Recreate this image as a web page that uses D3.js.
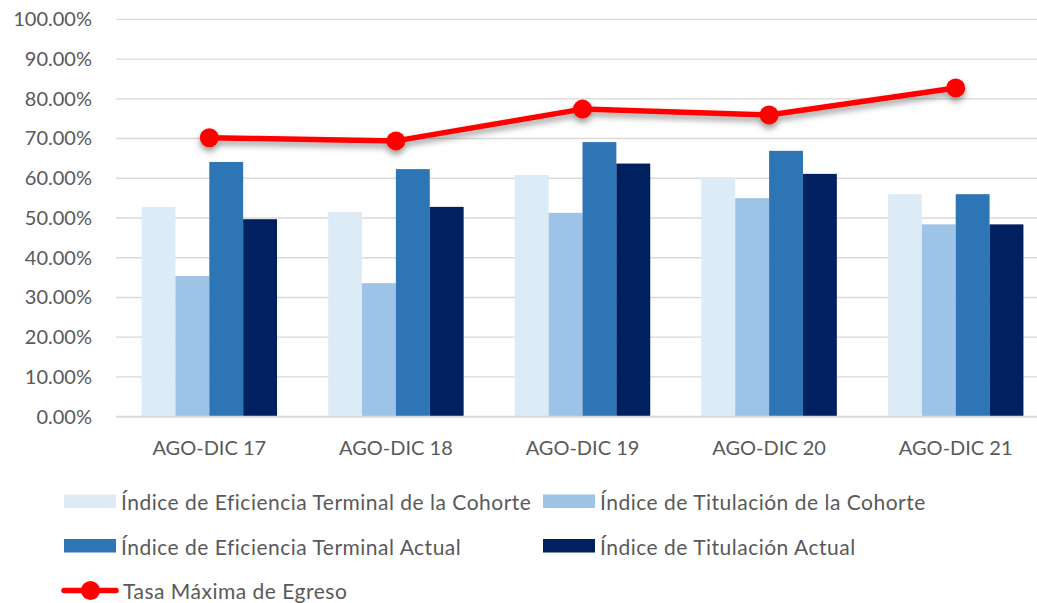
<!DOCTYPE html>
<html>
<head>
<meta charset="utf-8">
<script src="https://cdn.jsdelivr.net/npm/d3@7/dist/d3.min.js"></script>
<style>
  html, body { margin: 0; padding: 0; background: #ffffff; }
  svg { display: block; }
  text { font-family: "Lato", "Liberation Sans", sans-serif; fill: #595959; }
  .legend text { letter-spacing: 0.5px; }
</style>
</head>
<body>
<svg id="chart" width="1037" height="603"></svg>
<script>
// Periods on the x axis
const categories = ["AGO-DIC 17", "AGO-DIC 18", "AGO-DIC 19", "AGO-DIC 20", "AGO-DIC 21"];

// Bar series (percent)
const eficienciaCohorte = [52.8, 51.5, 60.8, 60.2, 56.0];
const titulacionCohorte = [35.4, 33.6, 51.3, 55.0, 48.4];
const eficienciaActual  = [64.1, 62.3, 69.1, 66.9, 56.0];
const titulacionActual  = [49.7, 52.8, 63.7, 61.1, 48.4];

// Line series (percent)
const tasaMaxima = [70.2, 69.4, 77.4, 75.9, 82.7];

// Series names
const barNames = [
  "Índice de Eficiencia Terminal de la Cohorte",
  "Índice de Titulación de la Cohorte",
  "Índice de Eficiencia Terminal Actual",
  "Índice de Titulación Actual"
];
const lineName = "Tasa Máxima de Egreso";

// Y axis ticks
const yTicks = [0, 10, 20, 30, 40, 50, 60, 70, 80, 90, 100];

const barSeries = [eficienciaCohorte, titulacionCohorte, eficienciaActual, titulacionActual];
const barColors = ["#DDEBF7", "#9DC3E6", "#2E75B6", "#002060"];
const lineColor = "#FF0000";

const svg = d3.select("#chart");

// Plot area
const plot = { left: 116, right: 1049, top: 19.3, bottom: 416.7 };

const x = d3.scaleBand()
  .domain(categories)
  .range([plot.left, plot.right])
  .paddingInner(0.274)
  .paddingOuter(0.137);

const sub = d3.scaleBand()
  .domain(d3.range(barSeries.length))
  .range([0, x.bandwidth()])
  .padding(0);

const y = d3.scaleLinear().domain([0, 100]).range([plot.bottom, plot.top]);

// Drop shadow under the line
const defs = svg.append("defs");
const f = defs.append("filter").attr("id", "lineShadow")
  .attr("x", "-10%").attr("y", "-50%").attr("width", "120%").attr("height", "200%");
f.append("feDropShadow")
  .attr("dx", 0).attr("dy", 4).attr("stdDeviation", 3)
  .attr("flood-color", "#000").attr("flood-opacity", 0.4);

// Gridlines
svg.append("g")
  .selectAll("line")
  .data(yTicks.filter(d => d > 0))
  .join("line")
  .attr("x1", plot.left).attr("x2", 1037)
  .attr("y1", d => y(d)).attr("y2", d => y(d))
  .attr("stroke", "#D9D9D9").attr("stroke-width", 1.3);

// Y axis labels
const yAxis = d3.axisLeft(y)
  .tickValues(yTicks)
  .tickSize(0)
  .tickPadding(0)
  .tickFormat(d => d3.format(".2f")(d) + "%");
const yg = svg.append("g").attr("transform", `translate(92,0)`).call(yAxis);
yg.select(".domain").remove();
yg.selectAll("text")
  .attr("font-size", 20)
  .attr("fill", "#595959")
  .style("font-family", "Lato, 'Liberation Sans', sans-serif");

// Bars
const groups = svg.append("g")
  .selectAll("g")
  .data(categories)
  .join("g")
  .attr("transform", d => `translate(${x(d)},0)`);

groups.selectAll("rect")
  .data((c, i) => barSeries.map((s, k) => ({ k, v: s[i] })))
  .join("rect")
  .attr("x", d => sub(d.k))
  .attr("width", sub.bandwidth())
  .attr("y", d => y(d.v))
  .attr("height", d => y(0) - y(d.v))
  .attr("fill", d => barColors[d.k]);

// Baseline
svg.append("line")
  .attr("x1", plot.left).attr("x2", 1037)
  .attr("y1", y(0)).attr("y2", y(0))
  .attr("stroke", "#D9D9D9").attr("stroke-width", 2);

// X axis labels
const xAxis = d3.axisBottom(x).tickSize(0).tickPadding(0);
const xg = svg.append("g").attr("transform", `translate(0,${y(0)})`).call(xAxis);
xg.select(".domain").remove();
xg.selectAll("text")
  .attr("y", 38)
  .attr("dy", 0)
  .attr("font-size", 20)
  .attr("fill", "#595959")
  .style("font-family", "Lato, 'Liberation Sans', sans-serif");

// Line with markers
const lineGen = d3.line()
  .x((d, i) => x(categories[i]) + x.bandwidth() / 2)
  .y(d => y(d));

const lineG = svg.append("g").attr("filter", "url(#lineShadow)");
lineG.append("path")
  .datum(tasaMaxima)
  .attr("d", lineGen)
  .attr("fill", "none")
  .attr("stroke", lineColor)
  .attr("stroke-width", 5.5)
  .attr("stroke-linejoin", "round")
  .attr("stroke-linecap", "round");
lineG.selectAll("circle")
  .data(tasaMaxima)
  .join("circle")
  .attr("cx", (d, i) => x(categories[i]) + x.bandwidth() / 2)
  .attr("cy", d => y(d))
  .attr("r", 9.5)
  .attr("fill", lineColor);

// Legend
const legendItems = [
  { name: barNames[0], color: barColors[0], sx: 64,  ty: 501.5 },
  { name: barNames[1], color: barColors[1], sx: 543, ty: 501.5 },
  { name: barNames[2], color: barColors[2], sx: 64,  ty: 546 },
  { name: barNames[3], color: barColors[3], sx: 543, ty: 546 }
];
const lg = svg.append("g").attr("class", "legend");
legendItems.forEach(it => {
  lg.append("rect")
    .attr("x", it.sx).attr("y", it.ty - 7)
    .attr("width", 52).attr("height", 13.5)
    .attr("fill", it.color);
  lg.append("text")
    .attr("x", it.sx + 57).attr("y", it.ty)
    .attr("dominant-baseline", "central")
    .attr("font-size", 21)
    .text(it.name);
});
// Line legend entry
lg.append("line")
  .attr("x1", 64).attr("x2", 116)
  .attr("y1", 590.5).attr("y2", 590.5)
  .attr("stroke", lineColor).attr("stroke-width", 5.5)
  .attr("stroke-linecap", "round");
lg.append("circle")
  .attr("cx", 90.5).attr("cy", 590.5).attr("r", 9.5)
  .attr("fill", lineColor);
lg.append("text")
  .attr("x", 123).attr("y", 590.5)
  .attr("dominant-baseline", "central")
  .attr("font-size", 21)
  .text(lineName);
</script>
</body>
</html>
